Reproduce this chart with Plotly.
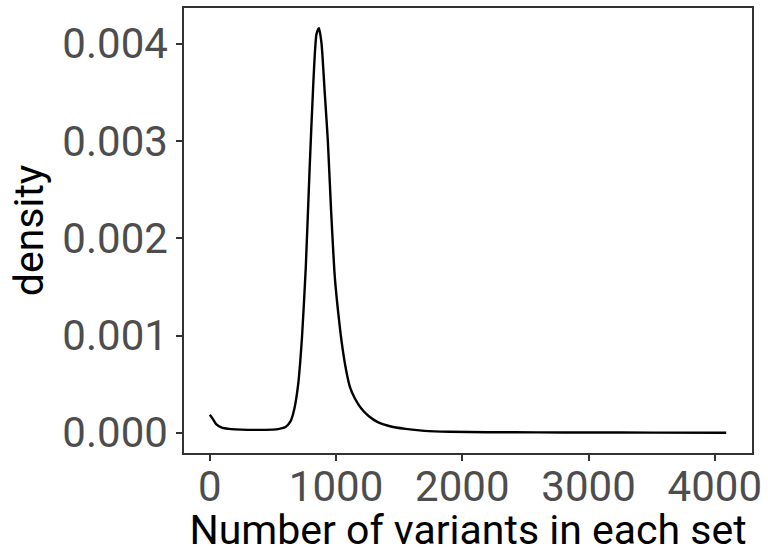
import plotly.graph_objects as go

# Density curve
variants = [0, 25, 50, 100, 150, 200, 300, 400, 500, 550, 600, 640, 670, 700, 730,
            760, 790, 820, 845, 865, 885, 910, 935, 960, 990, 1020, 1050, 1080,
            1110, 1150, 1200, 1260, 1330, 1420, 1550, 1700, 1900, 2200, 2600,
            3000, 3500, 4090]
density = [0.000185, 0.00014, 0.00009, 0.00005, 0.00004, 0.000035, 0.00003,
           0.00003, 0.000032, 0.00004, 0.00006, 0.00012, 0.00025, 0.0005,
           0.00098, 0.0017, 0.0027, 0.0036, 0.0041, 0.00416, 0.0040, 0.0035,
           0.0030, 0.0023, 0.0016, 0.0012, 0.00088, 0.00064, 0.00047, 0.00035,
           0.00025, 0.00017, 0.00011, 0.00007, 0.00004, 0.00002, 0.00001,
           0.000006, 0.000004, 0.000003, 0.000002, 0.000001]

x_ticks = [0, 1000, 2000, 3000, 4000]
y_ticks = [0.000, 0.001, 0.002, 0.003, 0.004]

xmax = max(variants)
ymax = max(density)

fig = go.Figure()
fig.add_trace(go.Scatter(x=variants, y=density, mode="lines",
                         line=dict(color="black", width=2.4, shape="spline", smoothing=0.6),
                         hoverinfo="skip", showlegend=False))

axis_common = dict(showgrid=False, zeroline=False, showline=True, mirror=True,
                   linecolor="#333333", linewidth=1.5, ticks="outside", ticklen=6,
                   tickcolor="#333333", tickwidth=1.5,
                   tickfont=dict(family="Roboto", size=42, color="#4D4D4D"))

fig.update_layout(
    width=768, height=554,
    margin=dict(l=184, r=15, t=6, b=101),
    paper_bgcolor="white", plot_bgcolor="white",
    xaxis=dict(range=[-0.05 * xmax, 1.05 * xmax], tickvals=x_ticks,
               ticktext=[str(v) for v in x_ticks], ticklabelstandoff=-10,
               title=dict(text="Number of variants in each set",
                          font=dict(family="Roboto", size=41, color="black"), standoff=2),
               **axis_common),
    yaxis=dict(range=[-0.05 * ymax, 1.05 * ymax], tickvals=y_ticks,
               ticktext=[f"{v:.3f}" for v in y_ticks],
               title=dict(text="density",
                          font=dict(family="Roboto", size=41, color="black"), standoff=6),
               **axis_common),
)

fig.write_html("out.html")
